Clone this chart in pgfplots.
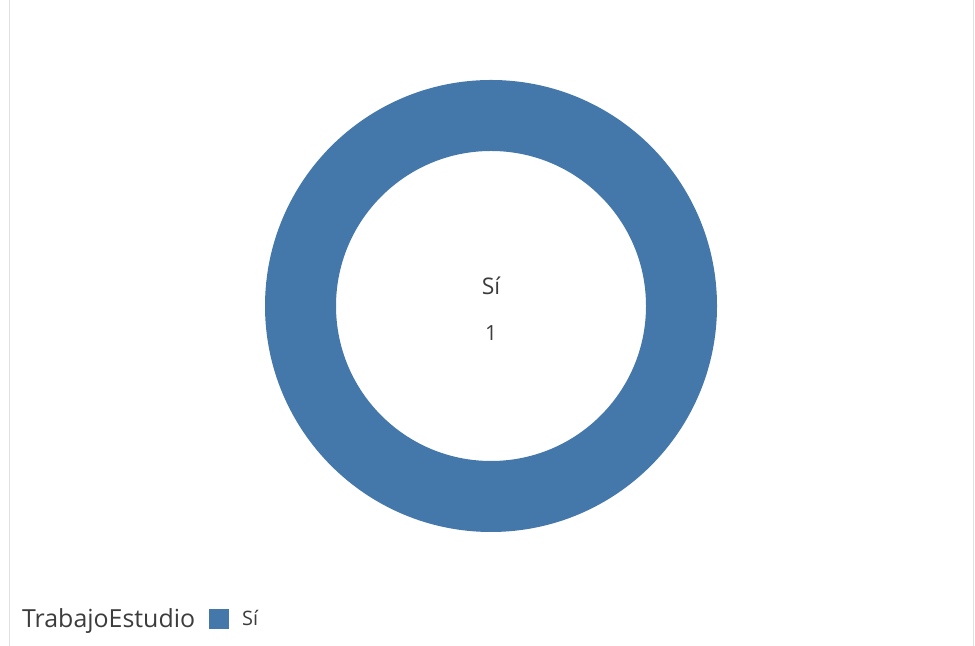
\documentclass[border=0pt]{standalone}
\usepackage{pgfplots}
\pgfplotsset{compat=1.18}
\usepackage{fontspec}
\setmainfont{Open Sans}
\definecolor{donut}{RGB}{68,119,170}
\definecolor{txt}{RGB}{60,60,60}
\definecolor{frame}{RGB}{224,224,224}

% share of the single category (100 %)
\pgfplotstableread{
x   y   value
491 340 1
}\donutdata

\begin{document}
\begin{tikzpicture}[x=1bp,y=1bp]
\begin{axis}[
    width=975bp, height=646bp, scale only axis,
    xmin=0, xmax=975, ymin=0, ymax=646,
    hide axis, clip=false,
    legend columns=-1,
    legend style={draw=none, fill=none, at={(axis cs:17,27)}, anchor=west,
        text=txt, /tikz/every even column/.append style={column sep=12bp}},
]
% card frame
\draw[frame, line width=1.2bp] (axis cs:9.5,0) -- (axis cs:9.5,646);
\draw[frame, line width=1.2bp] (axis cs:973.5,0) -- (axis cs:973.5,646);

\addlegendimage{empty legend}
\addlegendentry{\fontsize{25}{25}\selectfont TrabajoEstudio}

% the donut: one ring, 100 % "Sí"
\addplot[only marks, mark=o, mark size=190.5bp, donut, line width=71bp,
    legend image code/.code={\fill[donut, draw=none, line width=0pt]
        (0bp,-10bp) rectangle (20bp,10bp);}]
    table[x=x, y=y] {\donutdata};
\addlegendentry{\hspace{11bp}\fontsize{20}{20}\selectfont S\'{\i}}

\node[text=txt, font=\fontsize{23}{23}\selectfont] at (axis cs:491,360) {Sí};
\node[text=txt, font=\fontsize{21}{21}\selectfont] at (axis cs:491,313) {1};
\end{axis}
\pgfresetboundingbox
\path[use as bounding box] (0,0) rectangle (975,646);
\end{tikzpicture}
\end{document}
